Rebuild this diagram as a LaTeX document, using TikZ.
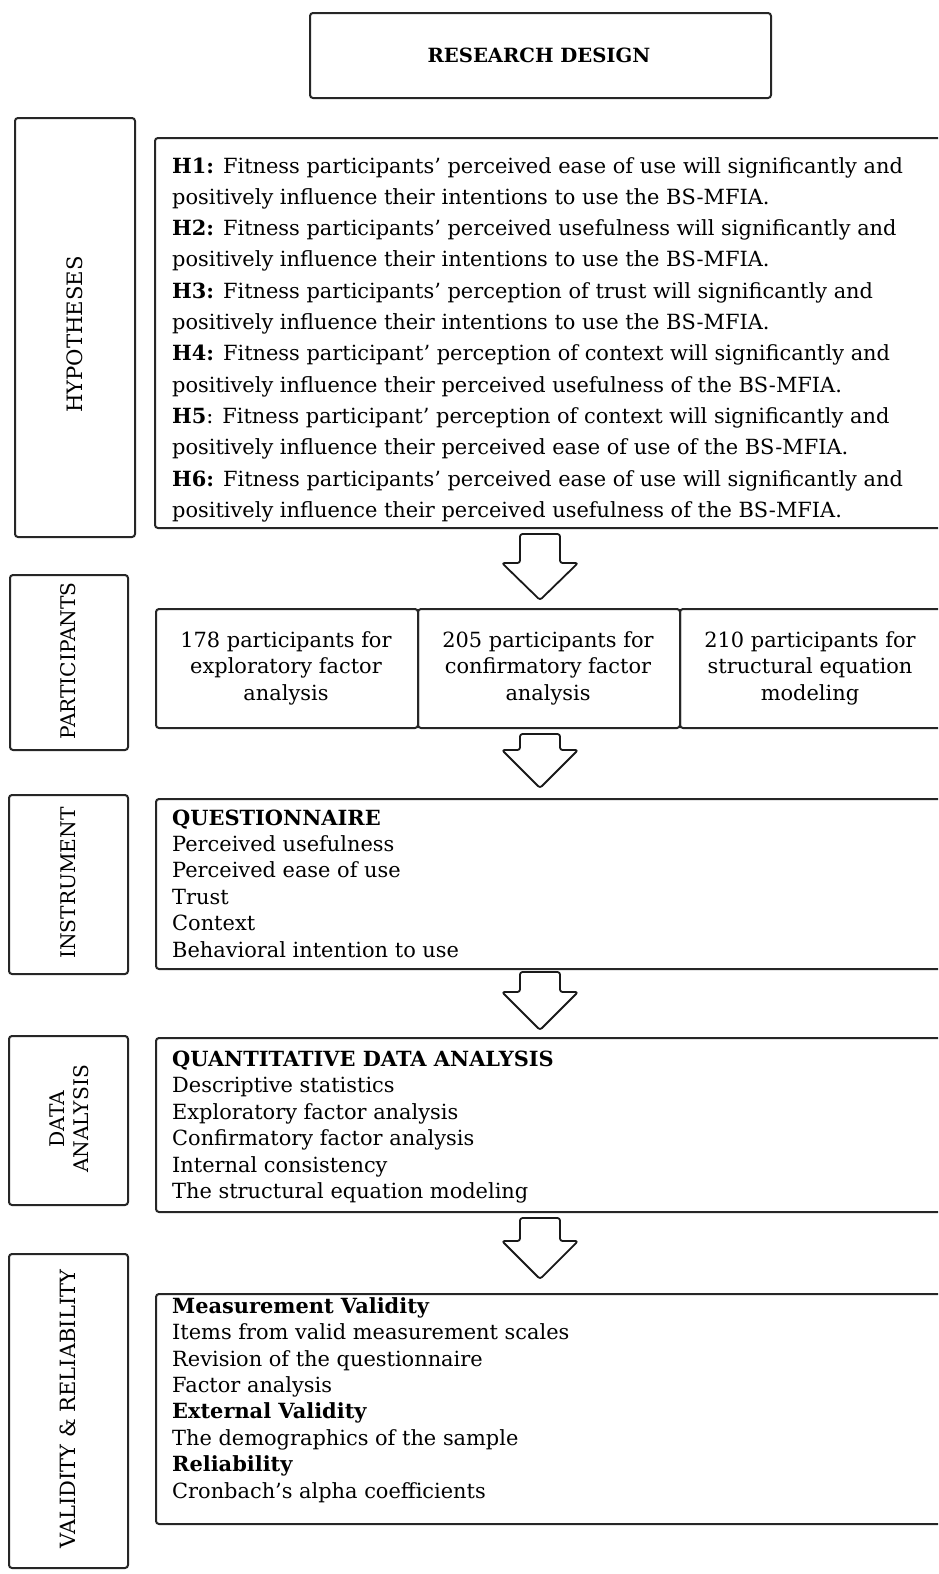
\documentclass[tikz,border=0pt]{standalone}
\usepackage{fontspec}
\setmainfont{DejaVu Serif}
\usetikzlibrary{calc}

\newcommand\bodysize{\fontsize{20.9}{26.4}\selectfont}
\newcommand\hypsize{\fontsize{20.9}{31.3}\selectfont}
\newcommand\labelsize{\fontsize{20.2}{24}\selectfont}

\begin{document}
\begin{tikzpicture}[x=1pt,y=-1pt,
  frame/.style={draw=black!85, line width=2pt, rounded corners=3pt,
    inner sep=0pt, anchor=north west},
  sidelabel/.style={rotate=90, inner sep=0pt, align=center, font=\labelsize},
  % anchored at the baseline of the last line
  bodytext/.style={anchor=base west, inner sep=0pt, align=left, font=\bodysize},
  celltext/.style={inner sep=0pt, align=center, font=\bodysize},
  blockarrow/.style={draw=black!90, line width=1.8pt, fill=white,
    rounded corners=2.5pt, line join=round}]
\useasboundingbox (0,0) rectangle (938,1574);
\clip (0,0) rectangle (938,1574);

% title
\node[frame, minimum width=461pt, minimum height=85pt] (title) at (309,12) {};
\node[inner sep=0pt, anchor=base, font=\fontsize{19.6}{22}\selectfont\bfseries]
  (titletext) at (539,62) {RESEARCH DESIGN};

% hypotheses
\node[frame, minimum width=120pt, minimum height=419pt] (hyplabel) at (14,117) {};
\node[sidelabel, font=\fontsize{21.2}{24}\selectfont] (hyplabeltext) at (75,334.5) {HYPOTHESES};
\node[frame, minimum width=800pt, minimum height=390pt] (hypbox) at (154,137) {};
\node[bodytext, font=\hypsize] (hyptext) at (172,517.3) {%
\textbf{H1:} Fitness participants’ perceived ease of use will significantly and\\
positively influence their intentions to use the BS-MFIA.\\
\textbf{H2:} Fitness participants’ perceived usefulness will significantly and\\
positively influence their intentions to use the BS-MFIA.\\
\textbf{H3:} Fitness participants’ perception of trust will significantly and\\
positively influence their intentions to use the BS-MFIA.\\
\textbf{H4:} Fitness participant’ perception of context will significantly and\\
positively influence their perceived usefulness of the BS-MFIA.\\
\textbf{H5}: Fitness participant’ perception of context will significantly and\\
positively influence their perceived ease of use of the BS-MFIA.\\
\textbf{H6:} Fitness participants’ perceived ease of use will significantly and\\
positively influence their perceived usefulness of the BS-MFIA.};

% participants
\node[frame, minimum width=118pt, minimum height=175pt] (partlabel) at (9,574) {};
\node[sidelabel] (partlabeltext) at (68,661) {PARTICIPANTS};
\node[frame, minimum width=262pt, minimum height=119pt] (partA) at (155,608) {};
\node[frame, minimum width=262pt, minimum height=119pt] (partB) at (417,608) {};
\node[frame, minimum width=262pt, minimum height=119pt] (partC) at (679,608) {};
\node[celltext] (partAtext) at (286,668) {178 participants for\\exploratory factor\\analysis};
\node[celltext] (partBtext) at (548,668) {205 participants for\\confirmatory factor\\analysis};
\node[celltext] (partCtext) at (810,668) {210 participants for\\structural equation\\modeling};

% instrument
\node[frame, minimum width=119pt, minimum height=179pt] (instrlabel) at (8,794) {};
\node[sidelabel] (instrlabeltext) at (68,883) {INSTRUMENT};
\node[frame, minimum width=800pt, minimum height=170pt] (instrbox) at (155,798) {};
\node[bodytext] (instrtext) at (172,957) {%
\textbf{QUESTIONNAIRE}\\
Perceived usefulness\\
Perceived ease of use\\
Trust\\
Context\\
Behavioral intention to use};

% data analysis
\node[frame, minimum width=119pt, minimum height=169pt] (datalabel) at (8,1035) {};
\node[sidelabel] (datalabeltext) at (69,1119) {DATA\\ANALYSIS};
\node[frame, minimum width=800pt, minimum height=174pt] (databox) at (155,1037) {};
\node[bodytext] (datatext) at (172,1198.5) {%
\textbf{QUANTITATIVE DATA ANALYSIS}\\
Descriptive statistics\\
Exploratory factor analysis\\
Confirmatory factor analysis\\
Internal consistency\\
The structural equation modeling};

% validity and reliability
\node[frame, minimum width=119pt, minimum height=314pt] (validlabel) at (8,1253) {};
\node[sidelabel, font=\fontsize{21}{24}\selectfont] (validlabeltext) at (68,1409) {VALIDITY \& RELIABILITY};
\node[frame, minimum width=800pt, minimum height=230pt] (validbox) at (155,1293) {};
\node[bodytext] (validtext) at (172,1498) {%
\textbf{Measurement Validity}\\
Items from valid measurement scales\\
Revision of the questionnaire\\
Factor analysis\\
\textbf{External Validity}\\
The demographics of the sample\\
\textbf{Reliability}\\
Cronbach’s alpha coefficients};

% hollow block arrows between the stages: top of shaft, base of head, tip
\newcommand\stagearrow[4]{%
  \coordinate (#1top) at (540,#2);
  \coordinate (#1tip) at (540,#4);
  \draw[blockarrow] ($(#1top)+(-20,0)$) -- ($(#1top)+(20,0)$)
    -- ($(#1top)+(20,#3-#2)$) -- ($(#1top)+(38,#3-#2)$) -- (#1tip)
    -- ($(#1top)+(-38,#3-#2)$) -- ($(#1top)+(-20,#3-#2)$) -- cycle;}
\stagearrow{arrA}{534}{563}{600}
\stagearrow{arrB}{734}{750}{788}
\stagearrow{arrC}{972}{992}{1030}
\stagearrow{arrD}{1218}{1241}{1279}
\end{tikzpicture}
\end{document}
